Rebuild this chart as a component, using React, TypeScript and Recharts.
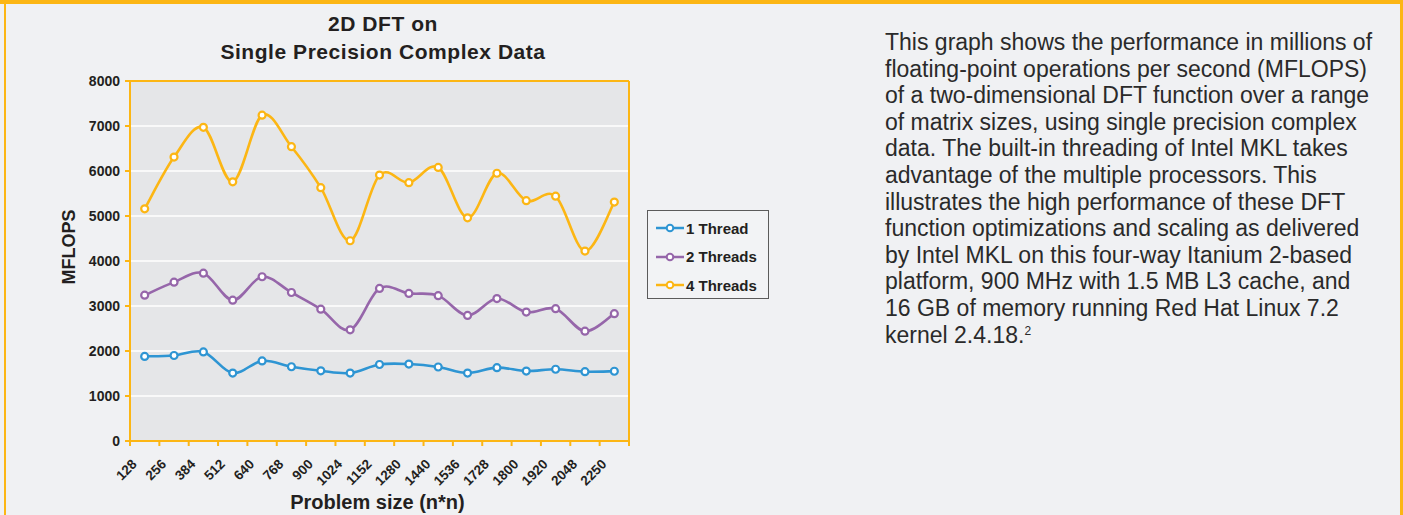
import {
  LineChart,
  Line,
  XAxis,
  YAxis,
  CartesianGrid,
  Legend,
  Label,
  ReferenceLine,
} from "recharts";

const sizes = ["128", "256", "384", "512", "640", "768", "900", "1024", "1152", "1280", "1440", "1536", "1728", "1800", "1920", "2048", "2250"];
const oneThread = [1880, 1900, 1980, 1510, 1780, 1650, 1560, 1510, 1700, 1710, 1645, 1510, 1630, 1555, 1595, 1540, 1550];
const twoThreads = [3240, 3530, 3730, 3130, 3650, 3300, 2930, 2470, 3390, 3280, 3230, 2790, 3165, 2865, 2940, 2440, 2830];
const fourThreads = [5160, 6310, 6970, 5760, 7240, 6540, 5630, 4450, 5910, 5740, 6080, 4960, 5950, 5340, 5440, 4220, 5310];
const yTicks = [0, 1000, 2000, 3000, 4000, 5000, 6000, 7000, 8000];

const data = sizes.map((size, i) => ({
  size,
  one: oneThread[i],
  two: twoThreads[i],
  four: fourThreads[i],
}));

const ORANGE = "#fcb614";
const BLUE = "#2e95d3";
const PURPLE = "#9666aa";
const INK = "#231f20";
const FONT = "'Liberation Sans', Arial, Helvetica, sans-serif";

const CHART_W = 800;
const CHART_H = 515;
const MARGIN = { top: 81, right: 171, bottom: 0, left: 0 };
const YAXIS_W = 130;
const BAND = (CHART_W - MARGIN.left - MARGIN.right - YAXIS_W) / sizes.length;

// excel-ish smoothing (catmull-rom through the points)
const smooth = (context: any) => {
  let pts: [number, number][] = [];
  return {
    areaStart() {},
    areaEnd() {},
    lineStart() {
      pts = [];
    },
    point(x: number, y: number) {
      pts.push([+x, +y]);
    },
    lineEnd() {
      if (!pts.length) return;
      context.moveTo(pts[0][0], pts[0][1]);
      for (let i = 0; i < pts.length - 1; i++) {
        const p0 = pts[i - 1] || pts[i];
        const p1 = pts[i];
        const p2 = pts[i + 1];
        const p3 = pts[i + 2] || p2;
        context.bezierCurveTo(
          p1[0] + (p2[0] - p0[0]) / 6,
          p1[1] + (p2[1] - p0[1]) / 6,
          p2[0] - (p3[0] - p1[0]) / 6,
          p2[1] - (p3[1] - p1[1]) / 6,
          p2[0],
          p2[1]
        );
      }
    },
  };
};

const SizeTick = (props: any) => {
  const { x, y, payload, index } = props;
  const half = BAND / 2;
  const tx = x - 7;
  const ty = y + 24;
  return (
    <g>
      <line x1={x - half} y1={y} x2={x - half} y2={y + 5} stroke={ORANGE} strokeWidth={2} />
      {index === sizes.length - 1 && (
        <line x1={x + half} y1={y} x2={x + half} y2={y + 5} stroke={ORANGE} strokeWidth={2} />
      )}
      <text
        x={tx}
        y={ty}
        textAnchor="end"
        transform={`rotate(-45 ${tx} ${ty})`}
        fill={INK}
        fontSize={13.5}
        fontWeight="bold"
        fontFamily={FONT}
      >
        {payload.value}
      </text>
    </g>
  );
};

const LegendBox = ({ payload }: any) => (
  <div
    style={{
      width: 120,
      height: 84,
      border: "1px solid #5b5b5b",
      background: "#f2f3f5",
      paddingTop: 3,
      fontFamily: FONT,
    }}
  >
    {(payload || []).map((e: any) => (
      <div key={e.value} style={{ display: "flex", alignItems: "center", height: 28.5, paddingLeft: 8 }}>
        <svg width={28} height={10} style={{ display: "block" }}>
          <line x1={0} y1={5} x2={28} y2={5} stroke={e.color} strokeWidth={2.5} />
          <circle cx={14} cy={5} r={3.3} fill="#fff" stroke={e.color} strokeWidth={2} />
        </svg>
        <span style={{ marginLeft: 2, fontSize: 15, fontWeight: "bold", color: INK }}>{e.value}</span>
      </div>
    ))}
  </div>
);

const dotStyle = (color: string) => ({ r: 3.5, fill: "#fff", stroke: color, strokeWidth: 2.2 });

export default function App() {
  return (
    <div
      style={{
        position: "relative",
        width: 1403,
        height: 515,
        background: "#f0f1f3",
        overflow: "hidden",
        fontFamily: FONT,
      }}
    >
      <style>{`body{margin:0}`}</style>
      <div style={{ position: "absolute", left: 0, top: 0, width: 1403, height: 4, background: ORANGE }} />
      <div style={{ position: "absolute", left: 4, top: 0, width: 2, height: 515, background: ORANGE }} />
      <div style={{ position: "absolute", left: 1400, top: 0, width: 3, height: 515, background: ORANGE }} />

      <div
        style={{
          position: "absolute",
          left: 183,
          top: 10,
          width: 400,
          textAlign: "center",
          fontSize: 21,
          lineHeight: "28px",
          fontWeight: "bold",
          color: INK,
          letterSpacing: 0.55,
        }}
      >
        2D DFT on
        <br />
        Single Precision Complex Data
      </div>

      <div style={{ position: "absolute", left: 0, top: 0 }}>
        <LineChart width={CHART_W} height={CHART_H} data={data} margin={MARGIN}>
          <CartesianGrid fill="#e5e6e8" stroke="#ffffff" strokeWidth={1.5} vertical={false} />
          <XAxis
            dataKey="size"
            scale="band"
            interval={0}
            height={74}
            tickSize={0}
            tickMargin={0}
            tick={<SizeTick />}
            axisLine={{ stroke: ORANGE, strokeWidth: 2 }}
          >
            <Label
              content={({ viewBox }: any) => (
                <text
                  x={viewBox.x + viewBox.width / 2 - 2}
                  y={509}
                  textAnchor="middle"
                  fill={INK}
                  fontSize={20}
                  fontWeight="bold"
                  fontFamily={FONT}
                >
                  Problem size (n*n)
                </text>
              )}
            />
          </XAxis>
          <YAxis
            width={YAXIS_W}
            domain={[0, 8000]}
            ticks={yTicks}
            interval={0}
            tickSize={5}
            tickMargin={5}
            tick={{ fill: INK, fontSize: 14, fontWeight: "bold", fontFamily: FONT }}
            tickLine={{ stroke: ORANGE, strokeWidth: 2 }}
            axisLine={{ stroke: ORANGE, strokeWidth: 2 }}
          >
            <Label
              content={() => (
                <text
                  x={0}
                  y={0}
                  transform="translate(75 247) rotate(-90)"
                  textAnchor="middle"
                  fill={INK}
                  fontSize={18}
                  fontWeight="bold"
                  fontFamily={FONT}
                >
                  MFLOPS
                </text>
              )}
            />
          </YAxis>
          <ReferenceLine y={8000} stroke={ORANGE} strokeWidth={2} />
          <ReferenceLine x={sizes[sizes.length - 1]} position="end" stroke={ORANGE} strokeWidth={2} />
          <Legend
            layout="vertical"
            align="center"
            verticalAlign="middle"
            content={<LegendBox />}
            wrapperStyle={{ position: "absolute", left: 647, top: 210, width: 122, height: 86 }}
          />
          <Line
            dataKey="one"
            name="1 Thread"
            type={smooth as any}
            stroke={BLUE}
            strokeWidth={2.6}
            dot={dotStyle(BLUE)}
            activeDot={false}
            isAnimationActive={false}
          />
          <Line
            dataKey="two"
            name="2 Threads"
            type={smooth as any}
            stroke={PURPLE}
            strokeWidth={2.6}
            dot={dotStyle(PURPLE)}
            activeDot={false}
            isAnimationActive={false}
          />
          <Line
            dataKey="four"
            name="4 Threads"
            type={smooth as any}
            stroke={ORANGE}
            strokeWidth={2.6}
            dot={dotStyle(ORANGE)}
            activeDot={false}
            isAnimationActive={false}
          />
        </LineChart>
      </div>

      <div
        style={{
          position: "absolute",
          left: 885,
          top: 29,
          fontSize: 23,
          lineHeight: "26.6px",
          color: "#2a2a2a",
          whiteSpace: "nowrap",
        }}
      >
        <div>This graph shows the performance in millions of</div>
        <div>floating-point operations per second (MFLOPS)</div>
        <div>of a two-dimensional DFT function over a range</div>
        <div>of matrix sizes, using single precision complex</div>
        <div>data. The built-in threading of Intel MKL takes</div>
        <div>advantage of the multiple processors. This</div>
        <div>illustrates the high performance of these DFT</div>
        <div>function optimizations and scaling as delivered</div>
        <div>by Intel MKL on this four-way Itanium 2-based</div>
        <div>platform, 900 MHz with 1.5 MB L3 cache, and</div>
        <div>16 GB of memory running Red Hat Linux 7.2</div>
        <div>
          kernel 2.4.18.<sup style={{ fontSize: 12, verticalAlign: "top", lineHeight: "18px" }}>2</sup>
        </div>
      </div>
    </div>
  );
}
